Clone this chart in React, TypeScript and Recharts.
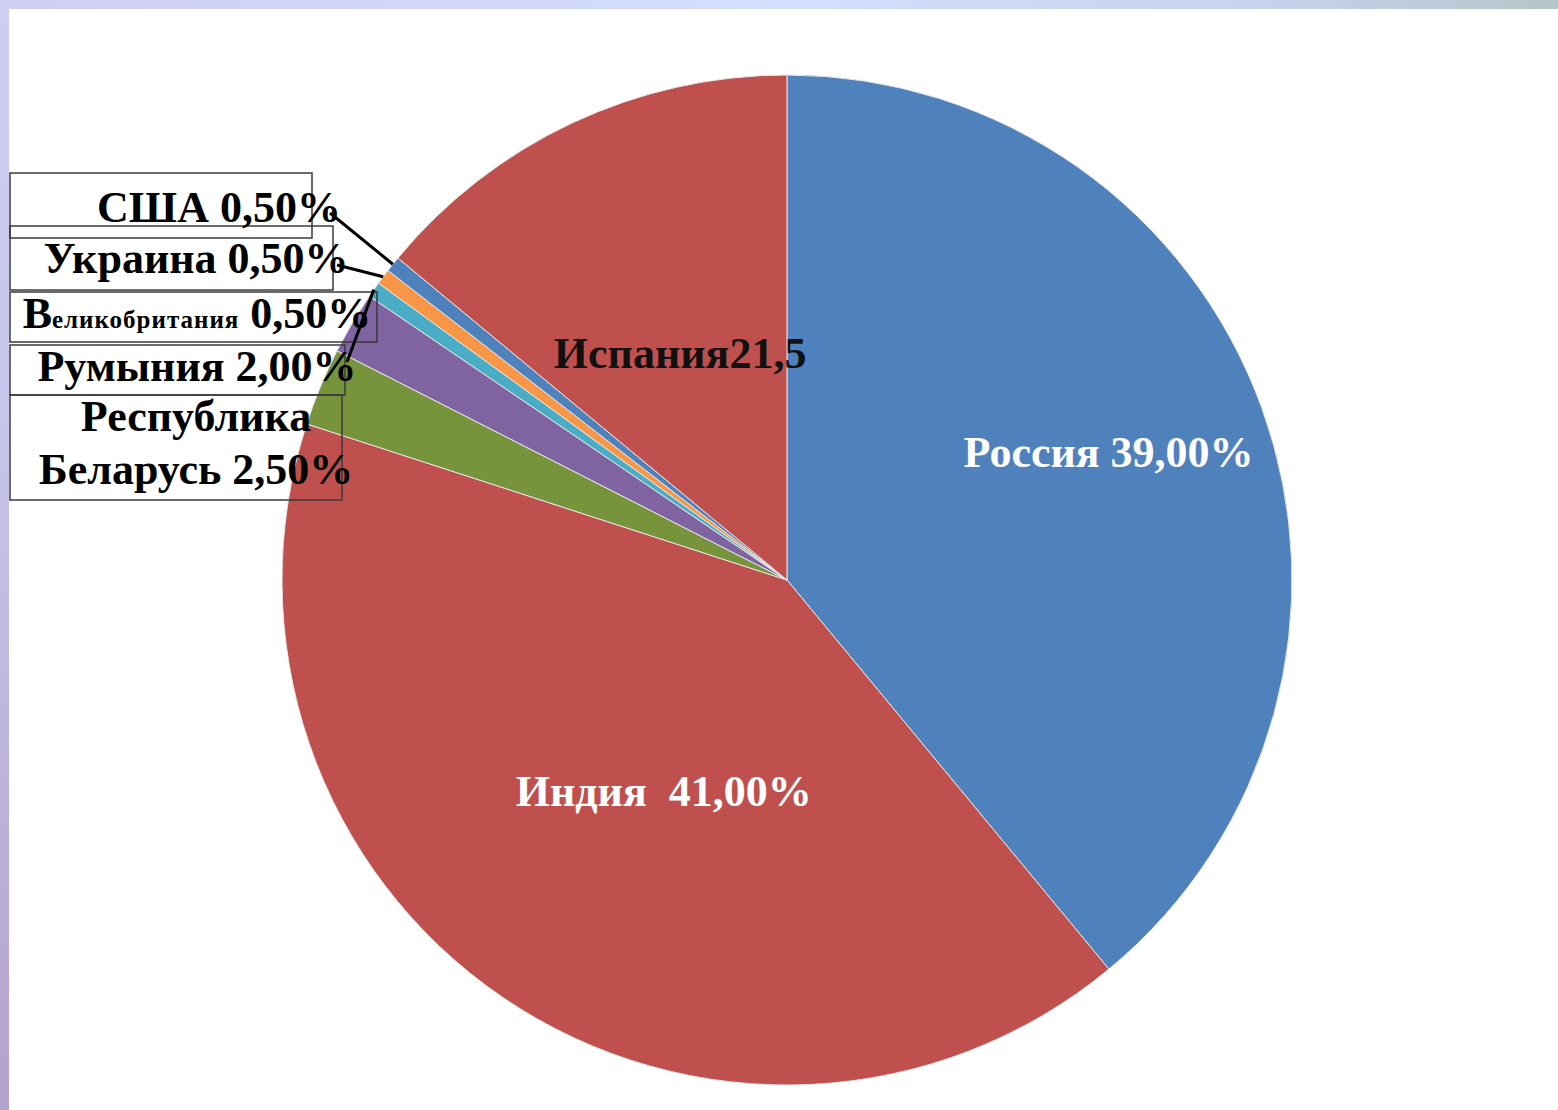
import { PieChart, Pie, Cell } from 'recharts'

const NAMES = ['Россия', 'Индия', 'Республика Беларусь', 'Румыния', 'Великобритания', 'Украина', 'США', 'Испания']
const SHARES = [39, 41, 2.5, 2, 0.5, 0.5, 0.5, 14]
const COLORS = ['#4F81BD', '#C0504D', '#77933C', '#8064A2', '#4BACC6', '#F79646', '#4F81BD', '#C0504D']

// labels drawn inside their slice
const INNER_TEXT: Record<number, string> = {
  0: 'Россия 39,00%',
  1: 'Индия  41,00%',
  7: 'Испания21,5',
}
const INNER_LAYOUT: Record<number, { r: number; dx: number; dy: number; fill: string }> = {
  0: { r: 345, dx: -3, dy: -12, fill: '#ffffff' },
  1: { r: 246, dx: 15, dy: 7, fill: '#ffffff' },
  7: { r: 251, dx: 0, dy: 0, fill: '#111111' },
}

// labels drawn in boxes on the left
const OUTER_LAYOUT: Record<number, {
  box: [number, number, number, number]
  cxText: number
  lines: { text: string; y: number }[]
  lineEnd?: [number, number]
}> = {
  6: { box: [10, 173, 302, 65], cxText: 219, lines: [{ text: 'США 0,50%', y: 222 }], lineEnd: [330, 213] },
  5: { box: [10, 226, 323, 64], cxText: 196, lines: [{ text: 'Украина 0,50%', y: 273 }], lineEnd: [337, 265] },
  4: { box: [10, 292, 367, 50], cxText: 197, lines: [], lineEnd: [347, 362] },
  3: { box: [10, 345, 335, 50], cxText: 197, lines: [{ text: 'Румыния 2,00%', y: 381 }] },
  2: { box: [10, 395, 332, 105], cxText: 196, lines: [{ text: 'Республика', y: 431 }, { text: 'Беларусь 2,50%', y: 484 }] },
}

const data = NAMES.map((name, i) => ({ name, value: SHARES[i] }))

const FONT = '"Liberation Serif", "Times New Roman", serif'
const RAD = Math.PI / 180

const renderLabel = (props: any) => {
  const { cx, cy, midAngle, outerRadius, index } = props
  if (INNER_LAYOUT[index]) {
    const { r, dx, dy, fill } = INNER_LAYOUT[index]
    const x = cx + r * Math.cos(-midAngle * RAD) + dx
    const y = cy + r * Math.sin(-midAngle * RAD) + dy
    return (
      <text x={x} y={y} dy="0.35em" textAnchor="middle" fill={fill}
        fontFamily={FONT} fontWeight="bold" fontSize={44} style={{ whiteSpace: 'pre' }}>
        {INNER_TEXT[index]}
      </text>
    )
  }
  const o = OUTER_LAYOUT[index]
  if (!o) return null
  const sx = cx + outerRadius * Math.cos(-midAngle * RAD)
  const sy = cy + outerRadius * Math.sin(-midAngle * RAD)
  const [bx, by, bw, bh] = o.box
  return (
    <g>
      <rect x={bx} y={by} width={bw} height={bh} fill="none" stroke="#3a3a3a" strokeWidth={1.5} />
      {o.lineEnd && (
        <line x1={sx} y1={sy} x2={o.lineEnd[0]} y2={o.lineEnd[1]} stroke="#000" strokeWidth={3} />
      )}
      {index === 4 ? (
        <text x={o.cxText} y={328} textAnchor="middle" fill="#000" fontFamily={FONT} fontWeight="bold">
          <tspan fontSize={44}>В</tspan>
          <tspan fontSize={25} letterSpacing={1}>еликобритания</tspan>
          <tspan fontSize={44} style={{ whiteSpace: 'pre' }}> 0,50%</tspan>
        </text>
      ) : (
        o.lines.map((l, k) => (
          <text key={k} x={o.cxText} y={l.y} textAnchor="middle" fill="#000"
            fontFamily={FONT} fontWeight="bold" fontSize={44}>
            {l.text}
          </text>
        ))
      )}
    </g>
  )
}

export default function App() {
  return (
    <div style={{ position: 'absolute', left: 0, top: 0, width: 1558, height: 1110, background: '#fff', overflow: 'hidden' }}>
      <div style={{ position: 'absolute', left: 0, top: 0, width: 1558, height: 9, background: 'linear-gradient(90deg, #CECFF2 0%, #D4DEFE 50%, #C8D3F0 80%, #B4C6C9 100%)' }} />
      <div style={{ position: 'absolute', left: 0, top: 0, width: 9, height: 1110, background: 'linear-gradient(180deg, #CDCFF2 0%, #C6C4EA 40%, #B3A2CC 100%)' }} />
      <div style={{ position: 'absolute', left: 0, top: 0 }}>
        <PieChart width={1558} height={1110} margin={{ top: 0, right: 0, bottom: 0, left: 0 }}>
          <Pie
            data={data}
            dataKey="value"
            nameKey="name"
            cx={787}
            cy={580}
            outerRadius={505}
            startAngle={90}
            endAngle={-270}
            stroke="#e6e6e6"
            strokeWidth={1}
            label={renderLabel}
            labelLine={false}
            isAnimationActive={false}
          >
            {data.map((d, i) => (
              <Cell key={d.name} fill={COLORS[i]} />
            ))}
          </Pie>
        </PieChart>
      </div>
    </div>
  )
}
